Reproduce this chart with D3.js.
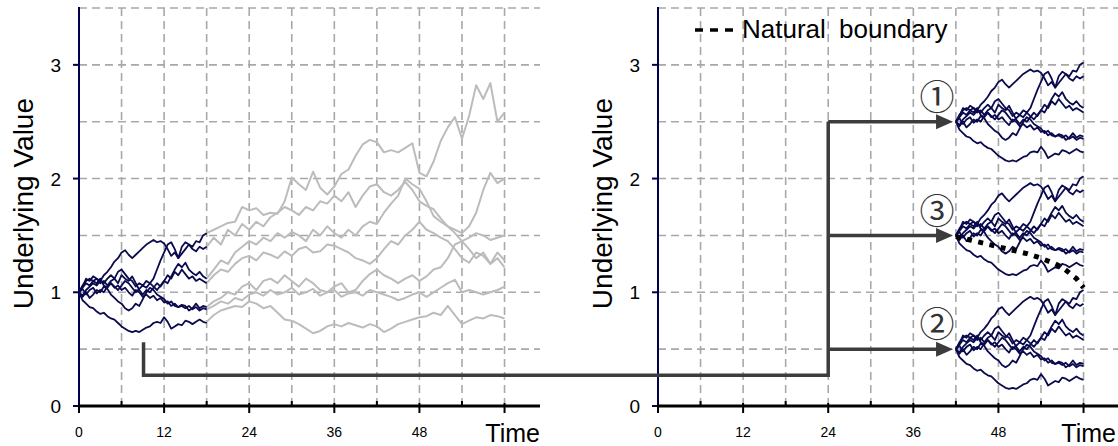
<!DOCTYPE html>
<html><head><meta charset="utf-8">
<script src="https://cdn.jsdelivr.net/npm/d3@7/dist/d3.min.js"></script>
<style>
body{margin:0;background:#fff;}
svg{display:block;font-family:"Liberation Sans",Arial,Helvetica,sans-serif;}
</style>
</head><body>
<svg id="chart" width="1118" height="446"></svg>
<script>
// ---------- DATA ----------
// Navy simulated paths, t = 0..18, step 0.5
const navyStep = 0.5;
const navyA = [1.00,1.04,1.08,1.06,1.10,1.12,1.10,1.15,1.18,1.22,1.27,1.30,1.35,1.37,1.33,1.30,1.33,1.36,1.39,1.42,1.44,1.46,1.44,1.45,1.43,1.38,1.32,1.35,1.30,1.34,1.38,1.42,1.40,1.45,1.44,1.50,1.52];
const navyB = [1.00,0.97,1.02,1.05,1.08,1.06,1.10,1.08,1.12,1.15,1.12,1.18,1.20,1.16,1.12,1.10,1.05,1.08,1.06,1.10,1.08,1.12,1.20,1.28,1.35,1.42,1.44,1.38,1.30,1.40,1.44,1.42,1.38,1.36,1.40,1.38,1.40];
const navyC = [1.00,1.06,1.10,1.12,1.10,1.08,1.12,1.06,1.04,1.08,1.05,1.02,1.06,1.10,1.08,1.04,1.00,1.03,1.06,1.04,1.08,1.05,1.02,1.06,1.10,1.08,1.14,1.20,1.25,1.22,1.26,1.20,1.17,1.15,1.18,1.14,1.12];
const navyC2 = [1.00,1.05,1.12,1.10,1.14,1.12,1.08,1.10,1.06,1.10,1.12,1.08,1.15,1.12,1.10,1.14,1.08,1.02,0.98,1.02,1.00,1.04,1.08,1.05,1.10,1.15,1.12,1.18,1.15,1.20,1.16,1.12,1.14,1.10,1.12,1.10,1.08];
const navyD = [1.00,0.96,1.00,0.95,0.98,1.02,1.00,1.05,1.03,0.98,0.95,0.92,0.90,0.86,0.84,0.86,0.90,0.88,0.94,1.00,1.04,1.02,0.98,0.96,0.94,0.90,0.92,0.88,0.87,0.89,0.88,0.84,0.86,0.90,0.86,0.88,0.87];
const navyD2 = [1.00,1.03,0.98,1.02,1.04,0.99,1.02,1.00,1.05,1.08,1.04,1.06,1.02,1.04,1.00,0.97,1.02,1.00,0.96,0.98,0.95,0.97,0.93,0.95,0.91,0.92,0.88,0.90,0.87,0.88,0.86,0.88,0.85,0.87,0.84,0.86,0.85];
const navyE = [1.00,0.93,0.90,0.87,0.86,0.83,0.81,0.82,0.79,0.77,0.76,0.73,0.70,0.68,0.66,0.65,0.66,0.65,0.67,0.69,0.70,0.73,0.74,0.73,0.78,0.74,0.68,0.70,0.72,0.71,0.75,0.74,0.72,0.74,0.76,0.74,0.73];
const navyPaths = [navyA, navyB, navyC, navyC2, navyD, navyD2, navyE];

// Gray continuation paths, t = 18..60, step 1
const grayT0 = 18, grayStep = 1;
const grayG1 = [1.52,1.55,1.58,1.61,1.62,1.75,1.72,1.74,1.68,1.70,1.69,1.80,2.01,1.95,1.90,2.06,1.92,1.86,1.93,2.04,2.08,2.20,2.30,2.34,2.32,2.23,2.25,2.23,2.27,2.31,2.05,2.02,2.15,2.33,2.45,2.54,2.35,2.55,2.82,2.70,2.84,2.50,2.58];
const grayG2 = [1.40,1.48,1.42,1.55,1.50,1.60,1.55,1.62,1.58,1.66,1.70,1.75,1.72,1.68,1.75,1.72,1.80,1.78,1.85,1.80,1.88,1.75,1.85,1.93,1.95,1.88,1.85,1.90,1.97,1.90,1.80,1.76,1.73,1.65,1.58,1.55,1.52,1.58,1.70,1.90,2.05,1.96,2.00];
const grayG3 = [1.12,1.20,1.28,1.25,1.35,1.40,1.45,1.42,1.48,1.45,1.52,1.48,1.53,1.50,1.45,1.55,1.50,1.58,1.52,1.48,1.55,1.50,1.58,1.62,1.60,1.70,1.78,1.85,2.00,1.95,1.91,1.80,1.67,1.62,1.58,1.52,1.45,1.48,1.52,1.50,1.46,1.48,1.50];
const grayG4 = [1.08,1.15,1.20,1.18,1.25,1.30,1.32,1.28,1.35,1.33,1.30,1.36,1.32,1.38,1.40,1.35,1.36,1.42,1.41,1.38,1.35,1.30,1.28,1.25,1.30,1.38,1.45,1.42,1.50,1.55,1.62,1.55,1.52,1.48,1.45,1.38,1.30,1.26,1.35,1.32,1.25,1.35,1.28];
const grayG5 = [0.87,0.92,0.95,1.00,0.98,1.05,1.08,1.02,1.10,1.12,1.08,1.15,1.10,1.05,1.12,1.08,1.02,1.00,1.05,1.08,1.00,1.02,1.10,1.16,1.20,1.15,1.12,1.08,1.12,1.15,1.10,1.14,1.20,1.22,1.30,1.42,1.45,1.38,1.30,1.35,1.25,1.30,1.22];
const grayG6 = [0.85,0.88,0.92,0.90,0.95,0.93,0.98,1.00,0.97,1.02,0.98,1.00,1.04,0.98,1.00,1.03,0.97,1.00,1.02,0.96,0.99,1.00,0.97,1.02,1.00,0.98,0.96,0.93,0.95,0.98,1.00,0.96,1.00,1.04,1.08,1.11,1.00,1.02,1.00,0.98,1.00,1.02,1.05];
const grayG7 = [0.74,0.80,0.84,0.86,0.88,0.87,0.92,0.90,0.86,0.88,0.82,0.76,0.75,0.72,0.68,0.64,0.66,0.70,0.72,0.70,0.73,0.71,0.69,0.72,0.70,0.65,0.68,0.72,0.74,0.76,0.78,0.79,0.82,0.80,0.88,0.80,0.72,0.75,0.78,0.77,0.80,0.79,0.77];
const grayPaths = [grayG1, grayG2, grayG3, grayG4, grayG5, grayG6, grayG7];

// Right panel: bundles of the navy paths restarted at t = 42
const bundleT0 = 42;
const bundleStarts = [2.5, 1.5, 0.5];
const bundleLabels = ["①", "③", "②"];

// Natural boundary (dotted)
const boundaryT = [42, 44, 46, 48, 50, 52, 54, 56, 57, 58, 59, 60];
const boundaryV = [1.49, 1.46, 1.43, 1.40, 1.37, 1.34, 1.30, 1.25, 1.22, 1.17, 1.12, 1.04];

// Ticks
const xTickLabels = [0, 12, 24, 36, 48];
const xTicksAll = [0, 6, 12, 18, 24, 30, 36, 42, 48, 54, 60];
const yTickLabels = [0, 1, 2, 3];
const yGrid = [0.5, 1, 1.5, 2, 2.5, 3, 3.5];

// Connector (left panel start -> right panel branches)
const connStartT = 9.1, connStartV = 0.56, connLowV = 0.27;
const connRightT = 24, connArrowT = 41.6;

const legendText = "Natural boundary";
const yTitle = "Underlying Value";
const xTitle = "Time";

// ---------- DRAW ----------
const svg = d3.select("#chart");
const navy = "#0a0a4e", gray = "#bcbcbc", gridC = "#a8a8a8", connC = "#3c3c3c";

const y = d3.scaleLinear().domain([0, 3.5]).range([406, 8]);
const panels = [
  { x: d3.scaleLinear().domain([0, 65]).range([79, 540]), titleEnd: 540 },
  { x: d3.scaleLinear().domain([0, 65]).range([658, 1119]), titleEnd: 1116 }
];

panels.forEach((p) => {
  const x = p.x;
  const g = svg.append("g");
  g.selectAll(".hg").data(yGrid).join("line")
    .attr("x1", x(0)).attr("x2", x(65)).attr("y1", d => y(d)).attr("y2", d => y(d))
    .attr("stroke", gridC).attr("stroke-width", 1.6).attr("stroke-dasharray", "8,5");
  g.selectAll(".vg").data(xTicksAll.filter(d => d > 0)).join("line")
    .attr("x1", d => x(d)).attr("x2", d => x(d)).attr("y1", y(0)).attr("y2", y(3.5))
    .attr("stroke", gridC).attr("stroke-width", 1.6).attr("stroke-dasharray", "8,5");

  g.append("line").attr("x1", x(0)).attr("x2", x(0)).attr("y1", y(0)).attr("y2", y(3.5) - 1)
    .attr("stroke", "#000050").attr("stroke-width", 2);
  g.selectAll(".yt").data(yTickLabels).join("line")
    .attr("x1", x(0) - 6).attr("x2", x(0)).attr("y1", d => y(d)).attr("y2", d => y(d))
    .attr("stroke", "#000050").attr("stroke-width", 2);
  g.selectAll(".yl").data(yTickLabels).join("text")
    .attr("x", x(0) - 18).attr("y", d => y(d) + 7)
    .attr("text-anchor", "end").attr("font-size", 19).attr("fill", "#000")
    .text(d => d);
  g.append("text")
    .attr("transform", `translate(${x(0) - 46},${y(1.78)}) rotate(-90)`)
    .attr("text-anchor", "middle").attr("font-size", 28).attr("fill", "#000")
    .text(yTitle);

  g.append("line").attr("x1", x(0) - 1).attr("x2", x(65)).attr("y1", y(0)).attr("y2", y(0))
    .attr("stroke", "#000").attr("stroke-width", 3);
  g.selectAll(".xt").data(xTicksAll).join("line")
    .attr("x1", d => x(d)).attr("x2", d => x(d))
    .attr("y1", d => d % 12 === 0 ? y(0) - 3 : y(0) - 5)
    .attr("y2", d => d % 12 === 0 ? y(0) + 7 : y(0))
    .attr("stroke", "#000").attr("stroke-width", 2);
  g.selectAll(".xl").data(xTickLabels).join("text")
    .attr("x", d => x(d)).attr("y", 437)
    .attr("text-anchor", "middle").attr("font-size", 14).attr("fill", "#000")
    .text(d => d);
  g.append("text").attr("x", p.titleEnd).attr("y", 442)
    .attr("text-anchor", "end").attr("font-size", 25).attr("fill", "#000")
    .text(xTitle);
});

const xl = panels[0].x, xr = panels[1].x;
const lineL = d3.line().x(d => xl(d[0])).y(d => y(d[1]));
const lineR = d3.line().x(d => xr(d[0])).y(d => y(d[1]));

svg.append("g").selectAll("path").data(grayPaths).join("path")
  .attr("d", arr => lineL(arr.map((v, i) => [grayT0 + i * grayStep, v])))
  .attr("fill", "none").attr("stroke", gray).attr("stroke-width", 2).attr("stroke-linejoin", "round");

svg.append("g").selectAll("path").data(navyPaths).join("path")
  .attr("d", arr => lineL(arr.map((v, i) => [i * navyStep, v])))
  .attr("fill", "none").attr("stroke", navy).attr("stroke-width", 1.8).attr("stroke-linejoin", "round");

bundleStarts.forEach(s => {
  const shift = s - navyPaths[0][0];
  svg.append("g").selectAll("path").data(navyPaths).join("path")
    .attr("d", arr => lineR(arr.map((v, i) => [bundleT0 + i * navyStep, v + shift])))
    .attr("fill", "none").attr("stroke", navy).attr("stroke-width", 1.8).attr("stroke-linejoin", "round");
});

svg.append("path")
  .attr("d", lineR(boundaryT.map((t, i) => [t, boundaryV[i]])))
  .attr("fill", "none").attr("stroke", "#000").attr("stroke-width", 5)
  .attr("stroke-dasharray", "5,6.5");

const cg = svg.append("g").attr("stroke", connC).attr("stroke-width", 3.5).attr("fill", "none");
const xs = xl(connStartT), xv = xr(connRightT);
cg.append("path").attr("d", `M${xs},${y(connStartV)} V${y(connLowV)} H${xv} V${y(bundleStarts[0])}`)
  .attr("stroke-linejoin", "miter");
bundleStarts.forEach((s, i) => {
  const tip = xr(connArrowT), yy = y(s);
  cg.append("line").attr("x1", xv).attr("x2", tip - 14).attr("y1", yy).attr("y2", yy);
  svg.append("path").attr("d", `M${tip},${yy} L${tip - 17},${yy - 7.5} L${tip - 17},${yy + 7.5} Z`)
    .attr("fill", connC);
  svg.append("text").attr("x", xr(39.35)).attr("y", y(s + 0.24))
    .attr("text-anchor", "middle").attr("dominant-baseline", "central")
    .attr("font-family", "'Noto Sans CJK JP','DejaVu Sans',sans-serif")
    .attr("font-size", 35).attr("fill", "#333")
    .text(bundleLabels[i]);
});

const lg = svg.append("g");
lg.append("line").attr("x1", 695).attr("x2", 733).attr("y1", 30).attr("y2", 30)
  .attr("stroke", "#000").attr("stroke-width", 3.5).attr("stroke-dasharray", "8,7");
lg.append("text").attr("x", 742).attr("y", 38).attr("font-size", 26).attr("fill", "#000")
  .attr("word-spacing", 6).text(legendText);
</script>
</body></html>
